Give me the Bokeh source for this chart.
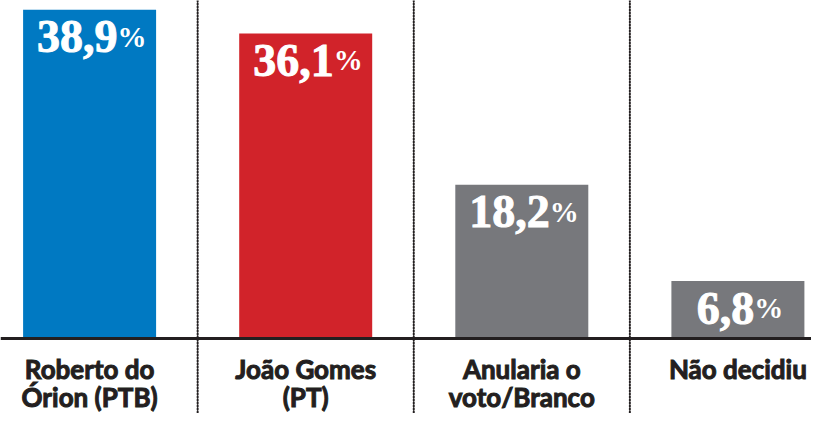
from bokeh.plotting import figure
from bokeh.models import ColumnDataSource, Span, Range1d
from bokeh.embed import file_html
from bokeh.resources import INLINE
from bokeh.core.properties import value

categories = ["Roberto do Órion (PTB)", "João Gomes (PT)", "Anularia o voto/Branco", "Não decidiu"]
label_line1 = ["Roberto do", "João Gomes", "Anularia o", "Não decidiu"]
label_line2 = ["Órion (PTB)", "(PT)", "voto/Branco", ""]
values = [38.9, 36.1, 18.2, 6.8]
value_labels = ["38,9", "36,1", "18,2", "6,8"]
colors = ["#0079C2", "#D1232A", "#77787C", "#77787C"]

W, H = 811, 413
pos = list(range(len(categories)))

NUM_PX = 46
PCT_PX = 29
def num_width(s):
    return sum(0.25 * NUM_PX if ch == "," else 0.5 * NUM_PX for ch in s)
pct_w = 0.85 * PCT_PX
junction = [(num_width(s) - pct_w) / 2.0 for s in value_labels]

src = ColumnDataSource(dict(
    x=pos, top=values, color=colors, num=value_labels, pct=["%"] * len(pos),
    junction=junction, l1=label_line1, l2=label_line2,
))

px_per_unit = 216.1
x0 = -89.1 / px_per_unit
px_per_val = 8.45
base_fig = 338

p = figure(width=W, height=H, output_backend="svg", toolbar_location=None,
           x_range=Range1d(x0, x0 + W / px_per_unit),
           y_range=Range1d(-(H - base_fig) / px_per_val, base_fig / px_per_val),
           min_border=0)
p.axis.visible = False
p.grid.visible = False
p.outline_line_color = None
p.background_fill_color = "white"
p.border_fill_color = "white"

p.vbar(x="x", top="top", bottom=0, width=133 / px_per_unit, color="color", source=src, line_color=None)

for xs in [0.5, 1.5, 2.5]:
    p.add_layout(Span(location=xs, dimension="height", line_color="#231F20",
                      line_width=2, line_dash="1 2", line_cap="round"))
p.add_layout(Span(location=0, dimension="width", line_color="#231F20", line_width=3))

p.text(x="x", y="top", text="num", source=src, x_offset="junction", y_offset=27,
       text_align="right", text_baseline="alphabetic", text_color="white",
       text_outline_color="white",
       text_font=value("Liberation Serif"), text_font_style="bold",
       text_font_size=f"{NUM_PX}px")
p.text(x="x", y="top", text="pct", source=src, x_offset="junction", y_offset=27,
       text_align="left", text_baseline="alphabetic", text_color="white",
       text_font=value("Liberation Serif"), text_font_style="bold",
       text_font_size=f"{PCT_PX}px")

for col, off in [("l1", 30), ("l2", 58)]:
    p.text(x="x", y=0, text=col, source=src, y_offset=off,
           text_align="center", text_baseline="alphabetic", text_color="#231F20",
           text_outline_color="#231F20",
           text_font=value("Lato"), text_font_style="bold", text_font_size="26px")

open("out.html", "w").write(file_html(p, INLINE))
